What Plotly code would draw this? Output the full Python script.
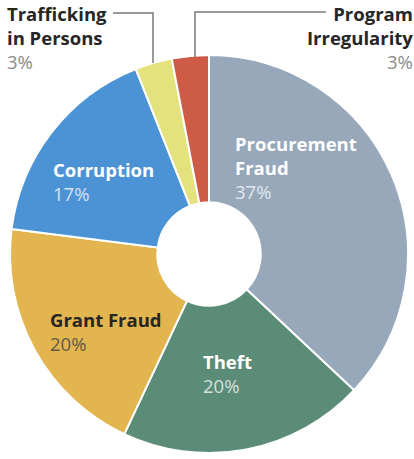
import plotly.graph_objects as go

# Share of investigations by category (percent)
categories = ["Procurement Fraud", "Theft", "Grant Fraud", "Corruption",
              "Trafficking in Persons", "Program Irregularity"]
shares = [37, 20, 20, 17, 3, 3]
colors = ["#96A8BA", "#5B8C78", "#E2B54F", "#4C93D6", "#E4E27C", "#CE5B46"]

W, H = 414, 459
FONT = "Open Sans"
FSIZE = 18.5

fig = go.Figure(go.Pie(
    labels=categories,
    values=shares,
    sort=False,
    direction="clockwise",
    rotation=0,
    hole=0.26,
    marker=dict(colors=colors, line=dict(color="white", width=2)),
    textinfo="none",
    hoverinfo="label+percent",
    showlegend=False,
    domain=dict(x=[10 / W, 408 / W], y=[6 / H, 404 / H]),
))


def px(x):
    return x / W


def py(y):
    return 1 - y / H


# label text: (category index, anchor x px, top y px, xanchor, align, name colour, pct colour, name lines)
label_specs = [
    (0, 233, 129, "left", "left", "white", "rgba(255,255,255,0.75)", ["Procurement", "Fraud"]),
    (1, 201, 347, "left", "left", "white", "rgba(255,255,255,0.75)", ["Theft"]),
    (2, 48, 305, "left", "left", "#262626", "#5e5a4a", ["Grant Fraud"]),
    (3, 51, 155, "left", "left", "white", "rgba(255,255,255,0.75)", ["Corruption"]),
    (4, 5, -1, "left", "left", "#262626", "#8a8a8a", ["Trafficking", "in Persons"]),
    (5, 415, -1, "right", "right", "#262626", "#8a8a8a", ["Program", "Irregularity"]),
]

annotations = []
for idx, x, y, xa, al, c_name, c_pct, lines in label_specs:
    name_html = "<br>".join(f"<b>{ln}</b>" for ln in lines)
    text = f"<span style='color:{c_name}'>{name_html}</span><br>" \
           f"<span style='color:{c_pct}'>{shares[idx]}%</span>"
    annotations.append(dict(
        x=px(x), y=py(y), xref="paper", yref="paper",
        xanchor=xa, yanchor="top", align=al, showarrow=False,
        text=text, font=dict(family=FONT, size=FSIZE, color=c_name),
    ))

# leader lines for the two small outer slices
leader = dict(color="#7a7a7a", width=1.5)
shapes = [
    dict(type="path", xref="paper", yref="paper",
         path=f"M {px(113)} {py(13)} L {px(153)} {py(13)} L {px(153)} {py(63)}",
         line=leader),
    dict(type="path", xref="paper", yref="paper",
         path=f"M {px(326)} {py(12)} L {px(195)} {py(12)} L {px(195)} {py(57)}",
         line=leader),
]

fig.update_layout(
    width=W, height=H,
    margin=dict(l=0, r=0, t=0, b=0),
    paper_bgcolor="white", plot_bgcolor="white",
    annotations=annotations,
    shapes=shapes,
    font=dict(family=FONT),
)

fig.write_html("out.html")
